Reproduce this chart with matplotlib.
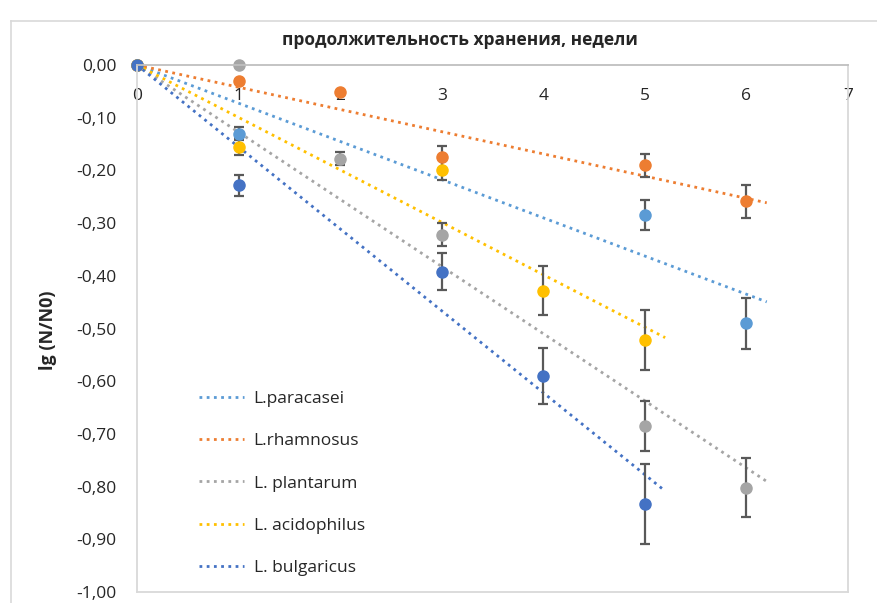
import numpy as np
import matplotlib.pyplot as plt
from matplotlib.lines import Line2D

plt.rcParams['font.family'] = ['Open Sans', 'DejaVu Sans']

# --- data: weeks of storage, lg(N/N0), error ---
paracasei_weeks = [0, 1, 5, 6]
paracasei_lg = [0.0, -0.130, -0.285, -0.490]
paracasei_err = [0.0, 0.013, 0.029, 0.048]

rhamnosus_weeks = [0, 1, 2, 3, 5, 6]
rhamnosus_lg = [0.0, -0.030, -0.052, -0.175, -0.190, -0.259]
rhamnosus_err = [0.0, 0.0, 0.0, 0.022, 0.022, 0.032]

plantarum_weeks = [0, 1, 2, 3, 5, 6]
plantarum_lg = [0.0, 0.0, -0.178, -0.322, -0.685, -0.802]
plantarum_err = [0.0, 0.0, 0.012, 0.022, 0.048, 0.056]

acidophilus_weeks = [0, 1, 3, 4, 5]
acidophilus_lg = [0.0, -0.155, -0.199, -0.428, -0.522]
acidophilus_err = [0.0, 0.016, 0.020, 0.047, 0.057]

bulgaricus_weeks = [0, 1, 3, 4, 5]
bulgaricus_lg = [0.0, -0.228, -0.392, -0.590, -0.833]
bulgaricus_err = [0.0, 0.020, 0.035, 0.053, 0.075]

names = ['L.paracasei', 'L.rhamnosus', 'L. plantarum', 'L. acidophilus', 'L. bulgaricus']
colors = ['#5B9BD5', '#ED7D31', '#A5A5A5', '#FFC000', '#4472C4']

series = [
    (paracasei_weeks, paracasei_lg, paracasei_err),
    (rhamnosus_weeks, rhamnosus_lg, rhamnosus_err),
    (plantarum_weeks, plantarum_lg, plantarum_err),
    (acidophilus_weeks, acidophilus_lg, acidophilus_err),
    (bulgaricus_weeks, bulgaricus_lg, bulgaricus_err),
]

W, H = 877, 603
fig = plt.figure(figsize=(W / 100, H / 100), dpi=100)
ax = fig.add_axes([137 / W, 1 - 592 / H, (848 - 137) / W, (592 - 65) / H])

handles = []
for (wk, lg, err), name, col in zip(series, names, colors):
    wk = np.array(wk, dtype=float)
    lg = np.array(lg)
    # linear trend forced through the origin, extended 0.2 week forward
    k = np.sum(wk * lg) / np.sum(wk * wk)
    xt = np.array([0, wk.max() + 0.2])
    ln, = ax.plot(xt, k * xt, color=col, lw=2.0, linestyle=(0, (1, 1.6)),
                  zorder=1.5, label=name)
    handles.append(ln)
    eb = ax.errorbar(wk, lg, yerr=err, fmt='o', color=col, ms=8,
                     ecolor='#595959', elinewidth=1.6, capsize=3.5, capthick=1.6,
                     zorder=2)
    for art in eb.get_children():
        art.set_clip_on(False)

ax.set_xlim(0, 7)
ax.set_ylim(-1.0, 0.0)
ax.set_xticks(range(0, 8))
ax.set_yticks(np.arange(-1.0, 0.01, 0.1))
ax.yaxis.set_major_formatter(
    lambda v, p: '0,00' if abs(v) < 1e-9 else f'{v:.2f}'.replace('.', ','))

ax.xaxis.set_ticks_position('top')
ax.tick_params(axis='x', length=0, labelsize=12.5, pad=-28, labelcolor='#262626')
ax.tick_params(axis='y', length=0, labelsize=12.5, pad=15, labelcolor='#262626')
for lab in ax.get_xticklabels():
    lab.set_verticalalignment('bottom')

for s in ax.spines.values():
    s.set_color('#D9D9D9')
    s.set_linewidth(1.3)
ax.spines['top'].set_color('#BFBFBF')

fig.text(460 / W, 1 - 40 / H, 'продолжительность хранения, недели',
         ha='center', va='center', fontsize=12.5, fontweight='bold',
         color='#262626')
fig.text(48 / W, 1 - 330 / H, 'lg (N/N0)', rotation=90, ha='center',
         va='center', fontsize=13, fontweight='bold', color='#262626')

ax.legend(handles=handles, loc='upper left',
          bbox_to_anchor=(199 / W, 1 - 391 / H), bbox_transform=fig.transFigure,
          frameon=False, fontsize=12.5, handlelength=2.6, handletextpad=0.55,
          labelspacing=1.5, borderpad=0, borderaxespad=0, labelcolor='#262626')

# chart area border
fig.add_artist(Line2D([11 / W, 11 / W], [0, 1 - 21 / H], color='#D9D9D9', lw=1.2))
fig.add_artist(Line2D([11 / W, 1], [1 - 21 / H, 1 - 21 / H], color='#D9D9D9', lw=1.2))

fig.savefig('out.png', dpi=100, facecolor='white')
